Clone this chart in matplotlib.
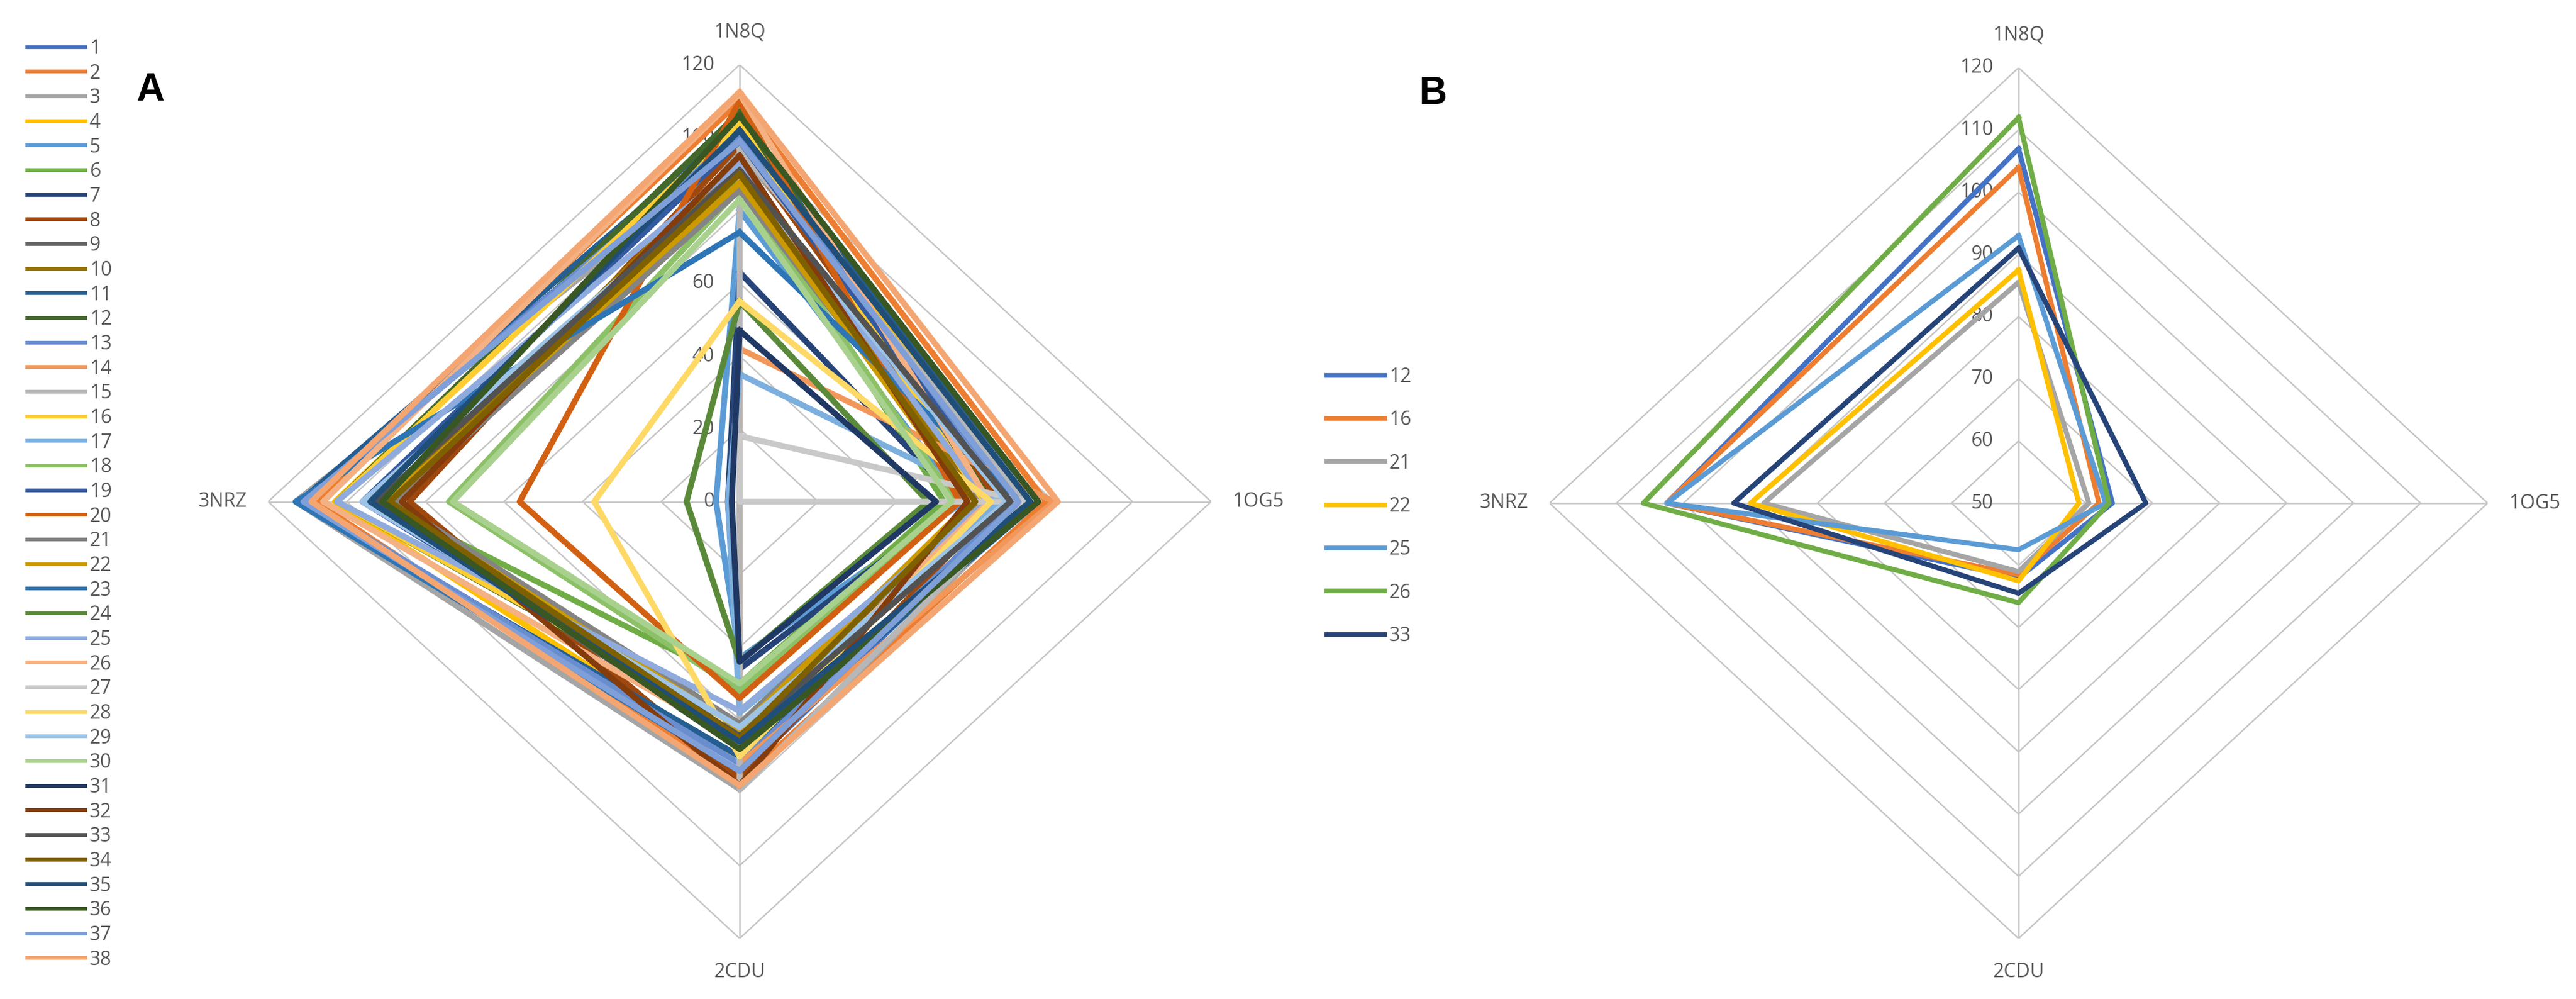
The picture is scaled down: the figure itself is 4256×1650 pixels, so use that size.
import numpy as np
import matplotlib.pyplot as plt

W, H = 4256, 1650
plt.rcParams['font.family'] = ['Open Sans', 'DejaVu Sans']

# categories, clockwise from the top
axis_names = ['1N8Q', '1OG5', '2CDU', '3NRZ']
angles = np.deg2rad([90, 0, -90, 180])

# panel A: 38 series, values for 1N8Q, 1OG5, 2CDU, 3NRZ
labels_a = [str(i) for i in range(1, 39)]
values_a = [
    [100, 72, 75, 112],   # 1
    [110, 78, 77, 108],   # 2
    [96, 74, 79, 113],    # 3
    [105, 70, 72, 103],   # 4
    [80, 57, 43, 6],      # 5
    [89, 52, 50, 92],     # 6
    [63, 56, 46, 3],      # 7
    [98, 66, 76, 84],     # 8
    [92, 64, 68, 92],     # 9
    [94, 61, 66, 90],     # 10
    [104, 76, 70, 112],   # 11
    [107, 64, 62, 102.5], # 12
    [101, 70, 72, 110],   # 13
    [42, 80, 72, 0],      # 14
    [97, 73, 79, 0],      # 15
    [104, 62, 61.5, 102.5],  # 16
    [35, 66, 58, 3],      # 17
    [86, 55, 52, 74],     # 18
    [99, 68, 64, 96],     # 19
    [110, 56, 54, 56],    # 20
    [85.5, 60.5, 61, 88], # 21
    [87.5, 59, 62.5, 90], # 22
    [74, 71, 74, 113],    # 23
    [55, 48, 44, 13.5],   # 24
    [93, 63, 57.5, 102.5],  # 25
    [112, 63.5, 66, 106], # 26
    [18, 73, 0, 0],       # 27
    [55, 64, 70, 37],     # 28
    [90, 68, 62, 96],     # 29
    [83, 54, 50, 73],     # 30
    [47, 50, 44, 2],      # 31
    [95, 58, 78, 86],     # 32
    [91, 69, 64.5, 92.5], # 33
    [90, 60, 65, 89],     # 34
    [102, 74, 66, 94],    # 35
    [106, 76, 68, 91],    # 36
    [99, 71, 74, 111],    # 37
    [112.5, 81, 78, 109], # 38
]
colors_a = [
    '#4472C4', '#ED7D31', '#A5A5A5', '#FFC000', '#5B9BD5', '#70AD47',
    '#264478', '#9E480E', '#636363', '#997300', '#255E91', '#43682B',
    '#698ED0', '#F1975A', '#B7B7B7', '#FFCD33', '#7CAFDD', '#8CC168',
    '#335AA1', '#D26012', '#848484', '#CC9A00', '#2E75B6', '#5A8A39',
    '#8FAADC', '#F4B183', '#C9C9C9', '#FFD966', '#9DC3E6', '#A9D18E',
    '#203864', '#843C0C', '#525252', '#7F6000', '#1F4E79', '#385723',
    '#7F9FD9', '#F4A672',
]
ticks_a = [0, 20, 40, 60, 80, 100, 120]

# panel B: selected series
labels_b = ['12', '16', '21', '22', '25', '26', '33']
values_b = [
    [107, 64, 62, 102.5],
    [104, 62, 61.5, 102.5],
    [85.5, 60.5, 61, 88],
    [87.5, 59, 62.5, 90],
    [93, 63, 57.5, 102.5],
    [112, 63.5, 66, 106],
    [91, 69, 64.5, 92.5],
]
colors_b = ['#4472C4', '#ED7D31', '#A5A5A5', '#FFC000', '#5B9BD5', '#70AD47', '#264478']
ticks_b = [50, 60, 70, 80, 90, 100, 110, 120]

grid_col = '#C6C6C6'
text_col = '#595959'
fs = 23


def make_axes(cx, cy, rx, ry):
    return fig.add_axes([(cx - rx) / W, (H - cy - ry) / H, 2 * rx / W, 2 * ry / H])


def radar(ax, values, colors, labels, ticks, lw):
    lo, hi = ticks[0], ticks[-1]
    R = hi - lo
    ax.set_xlim(-R, R)
    ax.set_ylim(-R, R)
    ax.set_aspect('auto')
    ax.axis('off')
    cs, sn = np.cos(angles), np.sin(angles)
    ring = [0, 1, 2, 3, 0]
    for t in ticks[1:]:
        r = t - lo
        ax.plot(r * cs[ring], r * sn[ring], color=grid_col, lw=1.8, zorder=1)
    for c, s in zip(cs, sn):
        ax.plot([0, R * c], [0, R * s], color=grid_col, lw=1.8, zorder=1)
    for t in ticks:
        ax.annotate(str(t), (0, t - lo), xytext=(-30, 0), textcoords='offset points',
                    ha='right', va='center', fontsize=fs, color=text_col, zorder=1.5)
    offs = [(0, 39), (25, 0), (0, -40), (-25, 0)]
    has = ['center', 'left', 'center', 'right']
    for name, c, s, off, ha in zip(axis_names, cs, sn, offs, has):
        ax.annotate(name, (R * c, R * s), xytext=off, textcoords='offset points',
                    ha=ha, va='center', fontsize=fs, color=text_col, annotation_clip=False)
    lines = []
    for v, col, lab in zip(values, colors, labels):
        r = np.clip(np.array(v, dtype=float) - lo, 0, None)
        ln, = ax.plot(r[ring] * cs[ring], r[ring] * sn[ring], color=col, lw=lw,
                      solid_joinstyle='round', label=lab, zorder=2, clip_on=False)
        lines.append(ln)
    return lines


fig = plt.figure(figsize=(W / 100, H / 100), dpi=100)

ax_a = make_axes(1222, 828.5, 779, 721.5)
lines_a = radar(ax_a, values_a, colors_a, labels_a, ticks_a, 7)

ax_b = make_axes(3335, 831, 775, 719)
lines_b = radar(ax_b, values_b, colors_b, labels_b, ticks_b, 6)

leg_a = fig.legend(handles=lines_a, loc='upper left', bbox_to_anchor=(45 / W, 1 - 64 / H),
                   frameon=False, fontsize=fs, handlelength=3.0, handletextpad=0.22,
                   labelspacing=0.24, borderpad=0, borderaxespad=0, labelcolor=text_col)
for h in leg_a.get_lines():
    h.set_linewidth(4.5)

leg_b = fig.legend(handles=lines_b, loc='upper left', bbox_to_anchor=(2192 / W, 1 - 606 / H),
                   frameon=False, fontsize=fs, handlelength=3.0, handletextpad=0.22,
                   labelspacing=1.20, borderpad=0, borderaxespad=0, labelcolor=text_col)
for h in leg_b.get_lines():
    h.set_linewidth(5.5)

fig.text(248 / W, 1 - 149 / H, 'A', fontsize=46, fontweight='bold', family='Liberation Sans',
         ha='center', va='center')
fig.text(2368 / W, 1 - 155 / H, 'B', fontsize=46, fontweight='bold', family='Liberation Sans',
         ha='center', va='center')

fig.savefig('out.png', dpi=100)
